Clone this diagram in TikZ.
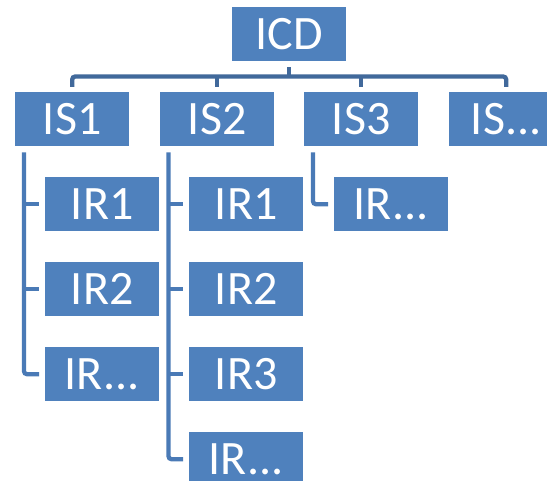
\documentclass[tikz,border=0pt]{standalone}
\usepackage{fontspec}
\setmainfont{Carlito}
\definecolor{boxblue}{HTML}{4F81BD}
\definecolor{busblue}{HTML}{41699B}
\definecolor{lineblue}{HTML}{4A7AB6}
\begin{document}
\begin{tikzpicture}[x=1pt,y=-1pt,
  box/.style={rectangle, fill=boxblue, minimum width=114pt, minimum height=54pt, inner sep=0pt,
    text=white, font=\fontsize{48}{48}\selectfont, anchor=north west},
  bus/.style={draw=busblue, line width=4.3pt, rounded corners=3pt},
  vconn/.style={draw=lineblue, line width=4.3pt, rounded corners=3pt}]
\clip (0,0) rectangle (547,481);
\fill[white] (0,0) rectangle (547,481);
\node[box] (ICD) at (232,7) {ICD};
\node[box] (IS1) at (15,92) {IS1};
\node[box] (IS2) at (160,92) {IS2};
\node[box] (IS3) at (304,92) {IS3};
\node[box] (ISx) at (449,92) {IS...};
\node[box] (A1) at (45,177) {IR1};
\node[box] (A2) at (45,262) {IR2};
\node[box] (A3) at (45,347) {IR...};
\node[box] (B1) at (189,177) {IR1};
\node[box] (B2) at (189,262) {IR2};
\node[box] (B3) at (189,347) {IR3};
\node[box] (B4) at (189,432) {IR...};
\node[box] (C1) at (334,177) {IR...};
\coordinate (bus) at (0,76.5);
% top bus
\draw[bus, shorten <=5pt, shorten >=5pt] (IS1.north) -- (IS1.north |- bus) -- (ISx.north |- bus) -- (ISx.north);
\draw[bus, shorten >=5pt] (IS2.north |- bus) -- (IS2.north);
\draw[bus, shorten >=5pt] (IS3.north |- bus) -- (IS3.north);
\draw[bus, shorten <=6pt] (ICD.south) -- (ICD.south |- bus);
% verticals
\coordinate (v1) at ([xshift=9pt]IS1.south west);
\coordinate (v2) at ([xshift=8.5pt]IS2.south west);
\coordinate (v3) at ([xshift=9pt]IS3.south west);
\draw[vconn, shorten <=6pt, shorten >=6pt] (v1) |- (A3.west);
\draw[vconn, shorten >=6pt] (A1.west -| v1) -- (A1.west);
\draw[vconn, shorten >=6pt] (A2.west -| v1) -- (A2.west);
\draw[vconn, shorten <=6pt, shorten >=6pt] (v2) |- (B4.west);
\draw[vconn, shorten >=6pt] (B1.west -| v2) -- (B1.west);
\draw[vconn, shorten >=6pt] (B2.west -| v2) -- (B2.west);
\draw[vconn, shorten >=6pt] (B3.west -| v2) -- (B3.west);
\draw[vconn, shorten <=6pt, shorten >=6pt] (v3) |- (C1.west);
\end{tikzpicture}
\end{document}
